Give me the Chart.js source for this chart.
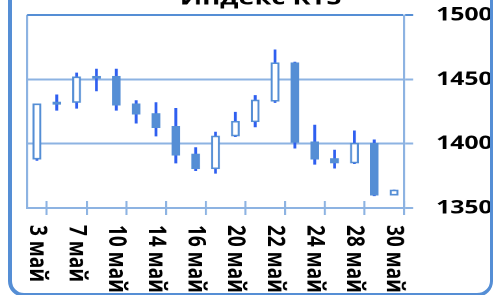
<!DOCTYPE html>
<html>
<head>
<meta charset="utf-8">
<script src="https://cdn.jsdelivr.net/npm/chart.js@4"></script>
<style>
  html, body { margin: 0; padding: 0; background: #fff; overflow: hidden; width: 494px; height: 295px; }
  #wrap { position: absolute; left: 0; top: -14px; width: 380px; height: 330px; transform: scaleX(1.3); transform-origin: 0 0; }
  #card { position: absolute; left: 8px; top: -40px; width: 485px; height: 337px; box-sizing: border-box;
          border: 4px solid #558ed5; border-right-width: 3px; border-radius: 16px; pointer-events: none; }
</style>
</head>
<body>
<div id="wrap"><canvas id="c"></canvas></div>
<div id="card"></div>
<script>
// ---- data ----
const titleText = 'Индекс RTS';
const categories = ['3 май','6 май','7 май','8 май','10 май','13 май','14 май','15 май','16 май','17 май',
                    '20 май','21 май','22 май','23 май','24 май','27 май','28 май','29 май','30 май'];
const tickLabels = ['3 май','','7 май','','10 май','','14 май','','16 май','',
                    '20 май','','22 май','','24 май','','28 май','','30 май'];
const opens  = [1388, 1432.5, 1432, 1452.5, 1452.5, 1431, 1423.5, 1413.5, 1392, 1380.5,
                1406, 1417, 1433, 1463, 1401.5, 1388.5, 1385, 1400.5, 1360];
const highs  = [1431, 1438, 1455, 1458, 1458, 1433.5, 1432, 1427.5, 1397, 1409,
                1424.5, 1437.5, 1473, 1463.5, 1414.5, 1395, 1410, 1403, 1364];
const lows   = [1387, 1426, 1427.5, 1441, 1426, 1416, 1406, 1385, 1379, 1377,
                1405.5, 1413, 1432, 1396.5, 1384, 1381, 1384.5, 1359.5, 1360];
const closes = [1431, 1430.5, 1452, 1451, 1430, 1423, 1412.5, 1391, 1380.5, 1406,
                1417.5, 1434, 1463, 1401, 1388, 1385, 1400.5, 1360, 1364];
const yTicks = [1350, 1400, 1450, 1500];

// ---- styles ----
const S = 1.3;
const BLUE = '#558ed5';
const WICK = '#2f5ff0';
const LIGHT = '#8db3e2';
const CLEAR = 'rgba(0,0,0,0)';
const FONT = '"Open Sans", "Noto Sans", sans-serif';
const CANVAS_H = 330;
const AREA_BOTTOM = 222;
const AREA_LEFT = 27 / S;
const AREA_RIGHT = 404 / S;
const CANVAS_W = 380;

const bodies = opens.map((o, i) => [o, closes[i]]);
const wicks = lows.map((l, i) => [l, highs[i]]);
const tickMarkColor = c => ((c.index === undefined || c.index % 2 === 1) ? LIGHT : CLEAR);

const xLabelPlugin = {
  id: 'xLabels',
  afterDraw(chart) {
    const xs = chart.scales.x;
    const ctx = chart.ctx;
    ctx.save();
    ctx.font = 'bold 19px ' + FONT;
    ctx.fillStyle = '#000';
    ctx.textAlign = 'left';
    ctx.textBaseline = 'middle';
    tickLabels.forEach((lab, i) => {
      if (!lab) return;
      const px = xs.getPixelForTick(i);
      ctx.save();
      ctx.translate(px, xs.top + 17);
      ctx.rotate(Math.PI / 2);
      ctx.fillText(lab, 0, 0);
      ctx.restore();
    });
    ctx.restore();
  }
};

new Chart(document.getElementById('c'), {
  type: 'bar',
  data: {
    labels: categories,
    datasets: [
      {
        label: 'body',
        data: bodies,
        backgroundColor: ctx => (closes[ctx.dataIndex] >= opens[ctx.dataIndex] ? '#ffffff' : BLUE),
        borderColor: BLUE,
        borderWidth: 1.6,
        borderSkipped: false,
        barThickness: 8 / S,
        grouped: false,
        order: 0
      },
      {
        label: 'wick',
        data: wicks,
        backgroundColor: WICK,
        borderWidth: 0,
        barThickness: 2 / S,
        grouped: false,
        order: 1
      }
    ]
  },
  options: {
    responsive: true,
    maintainAspectRatio: false,
    devicePixelRatio: 2,
    animation: false,
    layout: { padding: { left: AREA_LEFT, right: 0, top: 0, bottom: 0 } },
    plugins: {
      legend: { display: false },
      tooltip: { enabled: false },
      title: {
        display: true,
        text: titleText,
        color: '#000',
        font: { family: FONT, size: 21, weight: 'bold' },
        padding: { top: 0, bottom: 3.8 }
      }
    },
    scales: {
      x: {
        type: 'category',
        offset: true,
        weight: 0,
        grid: {
          offset: true,
          drawOnChartArea: true,
          drawTicks: true,
          tickLength: 7,
          lineWidth: 1.6,
          color: c => (c.index === 0 ? LIGHT : CLEAR),
          tickColor: tickMarkColor
        },
        border: { display: true, color: LIGHT, width: 2 },
        ticks: { display: false },
        afterFit: s => { s.height = CANVAS_H - AREA_BOTTOM; }
      },
      x2: {
        type: 'category',
        position: 'bottom',
        offset: true,
        weight: -1,
        grid: {
          offset: true,
          drawOnChartArea: false,
          drawTicks: true,
          tickLength: -7,
          lineWidth: 1.6,
          tickColor: tickMarkColor
        },
        border: { display: false },
        ticks: { display: false },
        afterFit: s => { s.height = 0; }
      },
      y: {
        position: 'right',
        min: 1350,
        max: 1500,
        afterBuildTicks: s => { s.ticks = yTicks.map(v => ({ value: v })); },
        grid: {
          color: c => (c.tick && c.tick.value === 1500 ? BLUE : LIGHT),
          lineWidth: 2,
          tickLength: 7
        },
        border: { display: true, color: LIGHT, width: 1.6 },
        ticks: {
          color: '#000',
          padding: 17.7,
          font: { family: FONT, size: 19, weight: 'bold' },
          callback: v => String(v)
        },
        afterFit: s => { s.width = CANVAS_W - AREA_RIGHT; }
      }
    }
  },
  plugins: [xLabelPlugin]
});
</script>
</body>
</html>
